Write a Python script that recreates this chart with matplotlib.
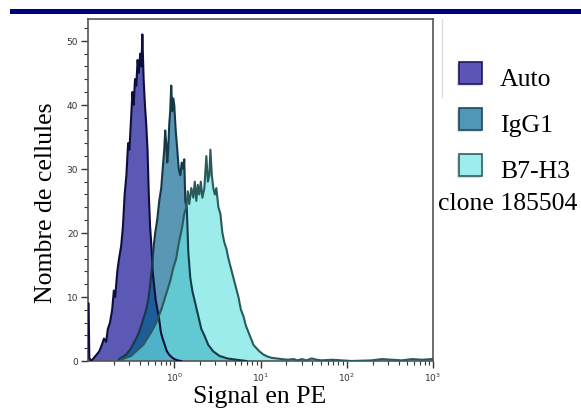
import numpy as np
import matplotlib
matplotlib.use("Agg")
import matplotlib.pyplot as plt
from matplotlib.patches import Rectangle
from matplotlib.lines import Line2D
from matplotlib.ticker import FixedLocator, LogLocator, MultipleLocator, LogFormatterSciNotation, NullFormatter

# ---------------- data ----------------
series_names = ["Auto", "IgG1", "B7-H3"]
legend_extra = "clone 185504"
x_label = "Signal en PE"
y_label = "Nombre de cellules"
x_ticks = [1, 10, 100, 1000]
y_ticks = [0, 10, 20, 30, 40, 50]

auto_log_signal = [-1.000, -0.993, -0.985, -0.965, -0.930, -0.900, -0.870, -0.840, -0.815, -0.790,
                   -0.770, -0.745, -0.720, -0.700, -0.685, -0.660, -0.640, -0.615, -0.595, -0.575,
                   -0.555, -0.535, -0.520, -0.500, -0.485, -0.470, -0.455, -0.440, -0.425, -0.410,
                   -0.395, -0.380, -0.370, -0.355, -0.340, -0.325, -0.310, -0.295, -0.280, -0.265,
                   -0.250, -0.235, -0.215, -0.195, -0.175, -0.155, -0.135, -0.110, -0.085, -0.060,
                   -0.030, 0.000, 0.040, 0.080]
auto_counts = [9, 9, 0.5, 0, 0.5, 1, 1.5, 2.5, 3.5, 3,
               5, 6, 8, 11, 10, 14, 16, 18, 21, 26,
               29, 34, 33, 38, 42, 40, 44, 43, 47, 45,
               48, 46, 51, 44, 40, 37, 33, 26, 21, 18,
               14, 12, 9.5, 8, 6.5, 4.5, 3.5, 2.5, 1.5, 1,
               0.6, 0.3, 0.1, 0]

igg1_log_signal = [-0.640, -0.558, -0.500, -0.442, -0.407, -0.360, -0.326, -0.302, -0.279, -0.256,
                   -0.238, -0.221, -0.198, -0.174, -0.151, -0.134, -0.116, -0.105, -0.093, -0.081,
                   -0.070, -0.058, -0.047, -0.035, -0.023, -0.012, 0.000, 0.017, 0.035, 0.052,
                   0.070, 0.087, 0.105, 0.116, 0.128, 0.145, 0.163, 0.186, 0.209, 0.244,
                   0.279, 0.314, 0.349, 0.395, 0.453, 0.523, 0.616, 0.721, 0.837]
igg1_counts = [0.3, 1, 2, 3.5, 4.5, 6.5, 8, 9.5, 12, 15,
               18, 20, 22, 25, 27, 30, 33, 36, 34, 31,
               33, 37, 39, 43, 39, 41, 40, 36, 33, 30,
               29, 31, 30, 31.5, 25, 24, 17, 13, 11, 9,
               7, 5, 4, 2.5, 1.5, 0.8, 0.4, 0.2, 0]

b7h3_log_signal = [-0.616, -0.500, -0.419, -0.360, -0.314, -0.267, -0.209, -0.151, -0.116, -0.081,
                   -0.047, -0.012, 0.023, 0.047, 0.070, 0.093, 0.116, 0.140, 0.157, 0.174,
                   0.198, 0.221, 0.238, 0.256, 0.273, 0.291, 0.308, 0.326, 0.349, 0.372,
                   0.390, 0.407, 0.419, 0.436, 0.453, 0.471, 0.488, 0.512, 0.535, 0.558,
                   0.581, 0.605, 0.628, 0.657, 0.686, 0.715, 0.744, 0.773, 0.802, 0.831,
                   0.860, 0.890, 0.919, 0.953, 0.988, 1.035, 1.081, 1.128, 1.186, 1.244,
                   1.314, 1.384, 1.430, 1.477, 1.535, 1.593, 1.651, 1.709, 1.826, 1.942,
                   2.058, 2.291, 2.407, 2.640, 2.756, 2.872, 2.990]
b7h3_counts = [0.2, 0.8, 1.8, 2.5, 3.5, 4.5, 6, 8, 9.5, 11,
               12.5, 14.5, 16, 18, 19.5, 21, 23, 24, 26.5, 24.5,
               27, 25.5, 28, 25, 27.5, 26, 28, 25.5, 27, 32,
               28, 29, 33, 29, 27, 26, 27, 24, 23, 20,
               18.5, 17.5, 16, 14.5, 13, 11.5, 10, 8, 7, 5.5,
               4.5, 3.5, 2.5, 2, 1.5, 1, 0.7, 0.5, 0.4, 0.3,
               0.2, 0.3, 0.1, 0.3, 0.1, 0.4, 0.2, 0.1, 0.2, 0.1,
               0, 0.1, 0.3, 0.1, 0.3, 0.2, 0.3]

# ---------------- style ----------------
fill_colors = ["#03008d", "#005f8d", "#68e3e3"]
edge_colors = ["#0d0d40", "#16394a", "#2a5a5a"]
legend_fill = ["#5b56b5", "#4f97b5", "#9dedee"]
legend_edge = ["#1c1c5a", "#1e4a5a", "#2f6060"]
serif = "Liberation Serif"

W, H = 581, 414
fig = plt.figure(figsize=(W / 100, H / 100), dpi=100)

def fx(px):
    return px / W

def fy(py):
    return 1 - py / H

left, right, top, bottom = 88, 433, 20, 362
ax = fig.add_axes([fx(left), fy(bottom), fx(right) - fx(left), fy(top) - fy(bottom)])

datasets = [(auto_log_signal, auto_counts), (igg1_log_signal, igg1_counts), (b7h3_log_signal, b7h3_counts)]
for (lx, cnt), fc, ec in zip(datasets, fill_colors, edge_colors):
    x = 10 ** np.asarray(lx)
    y = np.asarray(cnt, dtype=float)
    ax.fill_between(x, 0, y, facecolor=fc, alpha=0.65, lw=0, zorder=2)
    ax.plot(x, y, color=ec, lw=1.5, zorder=3)

ax.set_xscale("log")
ax.set_xlim(0.1, 1000)
ax.set_ylim(0, 53.4)
ax.xaxis.set_major_locator(FixedLocator(x_ticks))
ax.xaxis.set_major_formatter(LogFormatterSciNotation())
ax.xaxis.set_minor_locator(LogLocator(base=10, subs=np.arange(2, 10)))
ax.xaxis.set_minor_formatter(NullFormatter())
ax.yaxis.set_major_locator(FixedLocator(y_ticks))
ax.yaxis.set_minor_locator(MultipleLocator(2))

for s in ax.spines.values():
    s.set_color("#555555")
    s.set_linewidth(1.2)
ax.tick_params(which="major", direction="out", length=5, width=1, color="#333333",
               labelsize=6.5, labelcolor="#333333", pad=2)
ax.tick_params(which="minor", direction="out", length=3, width=0.8, color="#333333")

# axis labels
fig.text(fx(260), fy(403), x_label, family=serif, fontsize=18.5, ha="center", va="baseline")
fig.text(fx(46), fy(203), y_label, family=serif, fontsize=18.5, ha="center", va="center", rotation=90)

# top bar
fig.add_artist(Rectangle((fx(10), fy(15)), 1 - fx(10), fy(10) - fy(15), transform=fig.transFigure,
                         facecolor="#000080", edgecolor="none"))
# faint separator line
fig.add_artist(Line2D([fx(442), fx(442)], [fy(20), fy(98)], transform=fig.transFigure,
                      color="#dddddd", lw=1))

# legend
sq_tops = [63, 109, 155]
for name, top_y, fc, ec in zip(series_names, sq_tops, legend_fill, legend_edge):
    fig.add_artist(Rectangle((fx(457), fy(top_y + 24)), fx(24), fy(0) - fy(22), transform=fig.transFigure,
                             facecolor="#dddddd", edgecolor="none"))
    fig.add_artist(Rectangle((fx(459), fy(top_y + 22)), fx(23), fy(0) - fy(22), transform=fig.transFigure,
                             facecolor=fc, edgecolor=ec, lw=1.2))
    fig.text(fx(500), fy(top_y + 23), name, family=serif, fontsize=18.5, ha="left", va="baseline")
fig.text(fx(438), fy(210), legend_extra, family=serif, fontsize=18.5, ha="left", va="baseline")

fig.savefig("out.png", dpi=100)
